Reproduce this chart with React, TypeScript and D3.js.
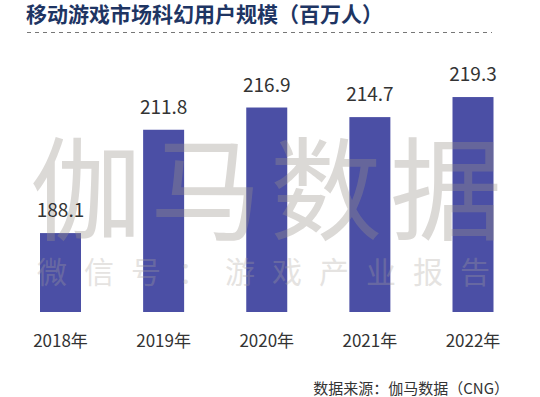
import React, { useEffect, useRef } from 'react';
import * as d3 from 'd3';

const years = ['2018年', '2019年', '2020年', '2021年', '2022年'];
const users = [188.1, 211.8, 216.9, 214.7, 219.3];

const title = '移动游戏市场科幻用户规模（百万人）';
const source = '数据来源：伽马数据（CNG）';

export default function App() {
  const svgRef = useRef<SVGSVGElement>(null);

  useEffect(() => {
    if (!svgRef.current) return;
    const svg = d3.select(svgRef.current);
    svg.selectAll('*').remove();

    const font = '"Noto Sans CJK SC", "Noto Sans", sans-serif';
    const width = 540;
    const height = 397;
    const baseY = 312;

    svg.append('rect').attr('width', width).attr('height', height).attr('fill', '#fff');

    // 제목
    svg.append('text')
      .attr('x', 26)
      .attr('y', 22)
      .attr('font-family', font)
      .attr('font-weight', 700)
      .attr('font-size', 21)
      .attr('fill', '#1e3563')
      .text(title);

    svg.append('line')
      .attr('x1', 27).attr('x2', 492)
      .attr('y1', 32.5).attr('y2', 32.5)
      .attr('stroke', '#777')
      .attr('stroke-width', 1)
      .attr('stroke-dasharray', '4,4');

    const x = d3.scalePoint<string>().domain(years).range([60.5, 473]);
    const y = d3.scaleLinear().domain([170, 220]).range([baseY, 94]);
    const barW = 41;

    const data = years.map((yr, i) => ({ yr, v: users[i] }));

    svg.append('g')
      .selectAll('rect')
      .data(data)
      .join('rect')
      .attr('x', d => (x(d.yr) as number) - barW / 2)
      .attr('y', d => y(d.v))
      .attr('width', barW)
      .attr('height', d => baseY - y(d.v))
      .attr('fill', '#4b4fa5');

    // 워터마크
    svg.append('text')
      .attr('x', 270)
      .attr('y', 232)
      .attr('text-anchor', 'middle')
      .attr('font-family', font)
      .attr('font-size', 112)
      .attr('letter-spacing', 8)
      .attr('fill', '#9a938b')
      .attr('opacity', 0.35)
      .text('伽马数据');

    svg.append('text')
      .attr('x', 272)
      .attr('y', 283)
      .attr('text-anchor', 'middle')
      .attr('font-family', font)
      .attr('font-size', 30)
      .attr('letter-spacing', 17)
      .attr('fill', '#aaa49d')
      .attr('opacity', 0.3)
      .text('微信号：游戏产业报告');

    svg.append('g')
      .selectAll('text')
      .data(data)
      .join('text')
      .attr('x', d => x(d.yr) as number)
      .attr('y', d => y(d.v) - 16)
      .attr('text-anchor', 'middle')
      .attr('font-family', font)
      .attr('font-size', 19)
      .attr('fill', '#333')
      .text(d => d.v.toFixed(1));

    svg.append('g')
      .selectAll('text')
      .data(years)
      .join('text')
      .attr('x', d => x(d) as number)
      .attr('y', 347)
      .attr('text-anchor', 'middle')
      .attr('font-family', font)
      .attr('font-size', 17)
      .attr('fill', '#333')
      .text(d => d);

    svg.append('text')
      .attr('x', 509)
      .attr('y', 394)
      .attr('text-anchor', 'end')
      .attr('font-family', font)
      .attr('font-size', 15)
      .attr('fill', '#333')
      .text(source);
  }, []);

  return (
    <svg
      ref={svgRef}
      width={540}
      height={397}
      viewBox="0 0 540 397"
      style={{ position: 'absolute', left: 0, top: 0, display: 'block' }}
    />
  );
}
